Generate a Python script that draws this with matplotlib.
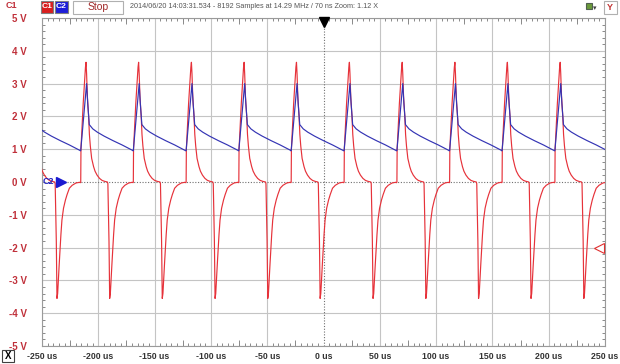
import numpy as np
import matplotlib
matplotlib.use("Agg")
import matplotlib.pyplot as plt
from matplotlib.patches import Rectangle
from matplotlib.ticker import MultipleLocator
from matplotlib import font_manager

# ---- data ----
# times (us) of the positive peaks of the pulse train (first one is just off-screen)
peak_times_us = [-257.7, -210.9, -164.2, -117.3, -70.5, -24.0, 23.0, 69.9, 116.7, 163.3, 210.2]

# C1 (red) shape of one cycle, time relative to the positive peak (us) and volts
red_shape_t = [-4.9, -4.7, -4.5, -2.5, -0.5, 0.0, 0.5, 1.2, 2.3, 3.0, 3.8, 5.0, 6.7, 8.0,
               9.8, 12.0, 14.2, 16.5, 19.0, 19.4, 20.4, 21.0, 21.6, 22.2, 23.0, 23.7,
               24.5, 25.4, 26.8, 28.5, 30.0, 32.0, 34.5, 37.9, 41.0]
red_shape_v = [-0.02, 0.0, 1.0, 2.4, 3.5, 3.65, 3.3, 2.6, 2.0, 1.45, 1.1, 0.72, 0.47, 0.33,
               0.21, 0.11, 0.05, 0.02, 0.0, -0.05, -1.8, -3.55, -3.4, -3.0, -2.5, -2.07,
               -1.6, -1.16, -0.8, -0.55, -0.38, -0.19, -0.1, -0.03, -0.01]

# C2 (blue) shape of one cycle
blue_shape_t = [-4.9, -4.7, -2.0, 0.5, 1.5, 2.9, 6.0, 10.0, 16.0, 24.0, 32.0, 41.0]
blue_shape_v = [0.95, 0.96, 2.0, 3.0, 2.4, 1.75, 1.62, 1.52, 1.40, 1.26, 1.13, 0.97]

x_ticks = [-250, -200, -150, -100, -50, 0, 50, 100, 150, 200, 250]
x_labels = ["-250 us", "-200 us", "-150 us", "-100 us", "-50 us", "0 us",
            "50 us", "100 us", "150 us", "200 us", "250 us"]
y_ticks = [5, 4, 3, 2, 1, 0, -1, -2, -3, -4, -5]
y_labels = ["5 V", "4 V", "3 V", "2 V", "1 V", "0 V", "-1 V", "-2 V", "-3 V", "-4 V", "-5 V"]

header_text = "2014/06/20 14:03:31.534 - 8192 Samples at 14.29 MHz / 70 ns Zoom: 1.12 X"

# ---- build the traces ----
def build(shape_t, shape_v):
    ts, vs = [], []
    for p in peak_times_us:
        ts.extend(np.asarray(shape_t) + p)
        vs.extend(shape_v)
    return np.array(ts), np.array(vs)

red_t, red_v = build(red_shape_t, red_shape_v)
blue_t, blue_v = build(blue_shape_t, blue_shape_v)

W, H = 620, 364
fig = plt.figure(figsize=(W / 100, H / 100), dpi=100)
fig.patch.set_facecolor("white")

def fx(x):
    return x / W

def fy(y):
    return 1 - y / H

installed = {f.name for f in font_manager.fontManager.ttflist}
narrow = "Liberation Sans Narrow" if "Liberation Sans Narrow" in installed else None

ax = fig.add_axes([fx(42), fy(346), 563 / W, 328 / H])
ax.set_xlim(-250, 250)
ax.set_ylim(-5, 5)

grid_c = "#c4c4c4"
for xv in x_ticks:
    if xv != 0:
        ax.axvline(xv, color=grid_c, lw=0.8, zorder=1)
for yv in y_ticks:
    if yv != 0:
        ax.axhline(yv, color=grid_c, lw=0.8, zorder=1)
ax.axvline(0, color="#707070", lw=0.8, ls=(0, (1, 1.5)), zorder=1)
ax.axhline(0, color="#707070", lw=0.8, ls=(0, (1, 1.5)), zorder=1)

ax.plot(red_t, red_v, color="#e6323a", lw=0.85, zorder=3)
ax.plot(blue_t, blue_v, color="#3434b4", lw=0.85, zorder=4)

ax.set_xticks(x_ticks)
ax.set_xticklabels(x_labels)
ax.set_yticks(y_ticks)
ax.set_yticklabels(y_labels)
ax.xaxis.set_minor_locator(MultipleLocator(5))
ax.yaxis.set_minor_locator(MultipleLocator(0.2))
ax.tick_params(which="both", direction="in", top=True, right=True, color="#8a8a8a", width=0.7)
ax.tick_params(which="major", length=0)
ax.tick_params(which="minor", length=2.2)
ax.tick_params(axis="x", which="major", pad=4, labelsize=6.3, labelcolor="#333333")
ax.tick_params(axis="y", which="major", pad=11, labelsize=7, labelcolor="#c0303a")
for lab in ax.get_xticklabels() + ax.get_yticklabels():
    lab.set_fontweight("bold")
    lab.set_family(["Liberation Sans", "DejaVu Sans"])
for sp in ax.spines.values():
    sp.set_color("#9a9a9a")
    sp.set_linewidth(0.8)

# medium ticks at 25 us positions
for side in ("top", "bottom"):
    sec = ax.secondary_xaxis(side)
    sec.set_xticks([-225, -175, -125, -75, -25, 25, 75, 125, 175, 225])
    sec.tick_params(direction="in", length=4, color="#8a8a8a", width=0.7, labelbottom=False, labeltop=False)
    sec.set_xticklabels([])
    for sp in sec.spines.values():
        sp.set_visible(False)

# markers: trigger, C2 offset, C1 trigger level
ax.plot([0], [4.88], marker="v", color="black", markersize=7, clip_on=False, zorder=6)
ax.text(-249.5, 0, "C2", color="#2020c0", fontsize=6.5, fontweight="bold",
        ha="left", va="center", zorder=6, family=["Liberation Sans", "DejaVu Sans"])
ax.plot([-233], [0], marker=">", color="#1a1ad0", markersize=7, clip_on=False, zorder=6)
ax.plot([244.5], [-2.0], marker="<", markerfacecolor="white", markeredgecolor="#e03030",
        markersize=7, markeredgewidth=0.8, clip_on=False, zorder=6)

# ---- header / chrome ----
fam = ["Liberation Sans", "DejaVu Sans"]
fig.text(fx(6), fy(6), "C1", color="#c0303a", fontsize=6.5, fontweight="bold", va="center", family=fam)

def box(x0, y0, x1, y1, fc, ec):
    fig.patches.append(Rectangle((fx(x0), fy(y1)), (x1 - x0) / W, (y1 - y0) / H,
                                 transform=fig.transFigure, facecolor=fc, edgecolor=ec, lw=0.8))

box(40.5, 1, 53, 13, "#d81e1e", "#808080")
fig.text(fx(46.8), fy(7), "C1", color="white", fontsize=6, fontweight="bold", ha="center", va="center", family=fam)
box(55, 1, 67.5, 13, "#1e1ed8", "#808080")
fig.text(fx(61.3), fy(7), "C2", color="white", fontsize=6, fontweight="bold", ha="center", va="center", family=fam)
box(73, 0.5, 123, 13.5, "white", "#b0b0b0")
fig.text(fx(98), fy(7), "Stop", color="#a02828", fontsize=7.5, ha="center", va="center", family=fam)
if narrow:
    fig.text(fx(130), fy(6.5), header_text, color="#555555", fontsize=6.4, ha="left", va="center",
             family=[narrow, "Liberation Sans"])
else:
    fig.text(fx(130), fy(6.5), header_text, color="#555555", fontsize=5.2, ha="left", va="center", family=fam)

box(603.5, 0.5, 617, 14, "white", "#b0b0b0")
fig.text(fx(610.3), fy(7.3), "Y", color="#c03030", fontsize=6.5, fontweight="bold", ha="center", va="center", family=fam)
# small icon
box(586, 3, 592, 9, "#6a9a3a", "#506050")
fig.text(fx(595), fy(8), "\u25be", color="#404040", fontsize=5, ha="center", va="center")

box(2, 350, 14, 362, "white", "#404040")
fig.text(fx(8), fy(356), "X", color="black", fontsize=7, fontweight="bold", ha="center", va="center", family=fam)

fig.savefig("out.png", dpi=100, facecolor="white")
